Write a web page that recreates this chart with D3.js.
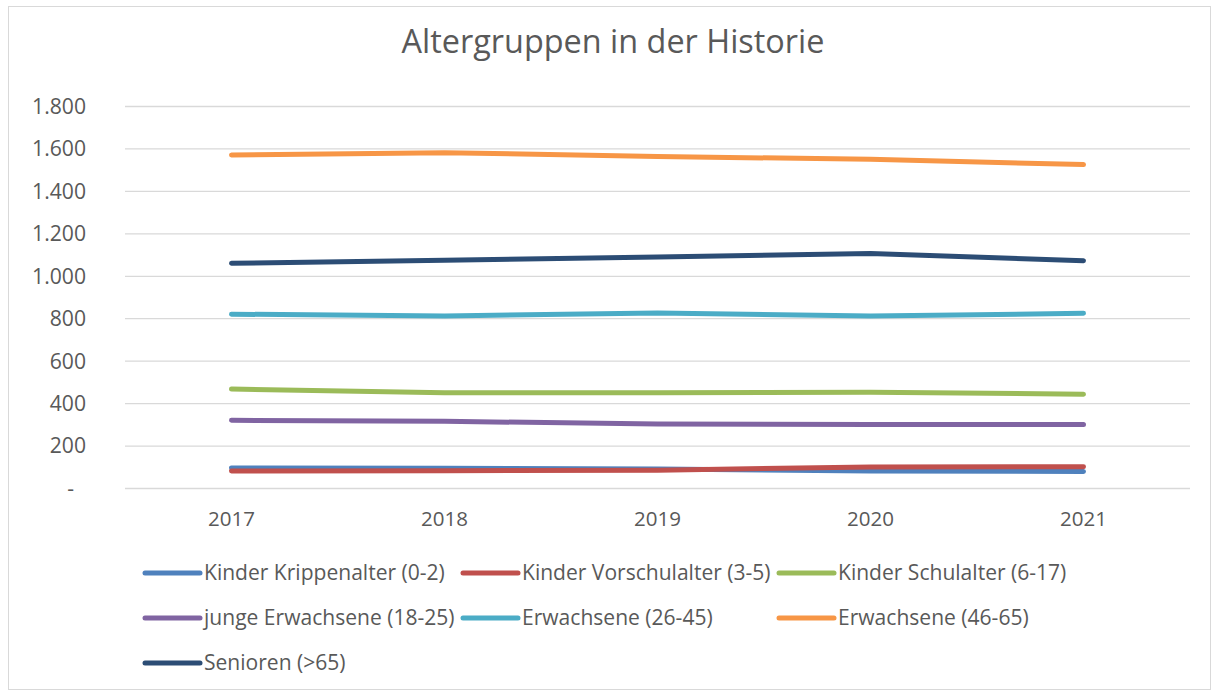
<!DOCTYPE html>
<html>
<head>
<meta charset="utf-8">
<script src="https://cdn.jsdelivr.net/npm/d3@7"></script>
<style>
  html, body { margin: 0; padding: 0; background: #fff; }
  svg { display: block; }
  text { font-family: "Open Sans", "Noto Sans", sans-serif; fill: #595959; }
</style>
</head>
<body>
<svg id="chart" width="1215" height="693"></svg>
<script>
const title = "Altergruppen in der Historie";
const years = ["2017", "2018", "2019", "2020", "2021"];
const seriesNames = [
  "Kinder Krippenalter (0-2)",
  "Kinder Vorschulalter (3-5)",
  "Kinder Schulalter (6-17)",
  "junge Erwachsene (18-25)",
  "Erwachsene (26-45)",
  "Erwachsene (46-65)",
  "Senioren (>65)"
];
const krippe   = [94, 93, 90, 80, 78];
const vorschul = [80, 81, 84, 99, 100];
const schul    = [466, 449, 449, 451, 442];
const jungeErw = [319, 314, 302, 299, 299];
const erw2645  = [819, 811, 825, 810, 823];
const erw4665  = [1569, 1580, 1562, 1549, 1524];
const senioren = [1059, 1073, 1089, 1105, 1071];
const yTicks = [0, 200, 400, 600, 800, 1000, 1200, 1400, 1600, 1800];
const colors = ["#4F81BD", "#C0504D", "#9BBB59", "#8064A2", "#4BACC6", "#F79646", "#2C4D75"];

const seriesValues = [krippe, vorschul, schul, jungeErw, erw2645, erw4665, senioren];
const series = seriesNames.map((n, i) => ({ name: n, values: seriesValues[i], color: colors[i] }));

const svg = d3.select("#chart");

function fitSize(str, target) {
  const t = svg.append("text").attr("font-size", 100).text(str);
  const w = t.node().getComputedTextLength();
  t.remove();
  return 100 * target / w;
}

svg.append("rect")
  .attr("x", 8.5).attr("y", 6.5).attr("width", 1202).attr("height", 683)
  .attr("fill", "#fff").attr("stroke", "#D9D9D9").attr("stroke-width", 1);

const plot = { left: 125, right: 1190, top: 106, bottom: 488 };

const x = d3.scaleBand().domain(years).range([plot.left, plot.right]);
const y = d3.scaleLinear().domain([0, 1800]).range([plot.bottom, plot.top]);

const titleSize = fitSize(title, 423);
svg.append("text")
  .attr("x", 613).attr("y", 53)
  .attr("text-anchor", "middle")
  .attr("font-size", titleSize)
  .text(title);

const tickSize = fitSize("1.800", 54);
const fmt = v => v === 0 ? "-" : d3.format(",")(v).replace(/,/g, ".");

svg.append("g")
  .selectAll("line").data(yTicks).join("line")
  .attr("x1", plot.left).attr("x2", plot.right)
  .attr("y1", d => y(d) + 0.5).attr("y2", d => y(d) + 0.5)
  .attr("stroke", "#D9D9D9").attr("stroke-width", 1.3);

const yAxis = d3.axisLeft(y).tickValues(yTicks).tickFormat(fmt).tickSize(0).tickPadding(0);
const gy = svg.append("g").attr("transform", "translate(86,0)").call(yAxis);
gy.select(".domain").remove();
gy.attr("font-family", null);
gy.selectAll("text")
  .attr("font-size", tickSize)
  .attr("fill", "#595959")
  .attr("dy", "0.35em")
  .attr("dx", d => d === 0 ? -12 : 0);

const xAxis = d3.axisBottom(x).tickSize(0).tickPadding(0);
const gx = svg.append("g").attr("transform", `translate(0,${plot.bottom})`).call(xAxis);
gx.select(".domain").remove();
gx.attr("font-family", null);
gx.selectAll("text")
  .attr("font-size", fitSize("2017", 47))
  .attr("fill", "#595959")
  .attr("dy", null)
  .attr("y", 38);

const line = d3.line()
  .x((d, i) => x(years[i]) + x.bandwidth() / 2)
  .y(d => y(d));

svg.append("g")
  .selectAll("path").data(series).join("path")
  .attr("d", d => line(d.values))
  .attr("fill", "none")
  .attr("stroke", d => d.color)
  .attr("stroke-width", 5)
  .attr("stroke-linecap", "round")
  .attr("stroke-linejoin", "round");

const legSize = fitSize(seriesNames[0], 241);
const colX = [145, 463, 779];
const rowY = [573, 618, 663];
const leg = svg.append("g")
  .selectAll("g").data(series).join("g")
  .attr("transform", (d, i) => `translate(${colX[i % 3]},${rowY[Math.floor(i / 3)]})`);
leg.append("line")
  .attr("x1", 0).attr("x2", 55).attr("y1", 0).attr("y2", 0)
  .attr("stroke", d => d.color).attr("stroke-width", 5)
  .attr("stroke-linecap", "round");
leg.append("text")
  .attr("x", 59).attr("y", 0).attr("dy", "0.35em")
  .attr("font-size", legSize)
  .text(d => d.name);
</script>
</body>
</html>
